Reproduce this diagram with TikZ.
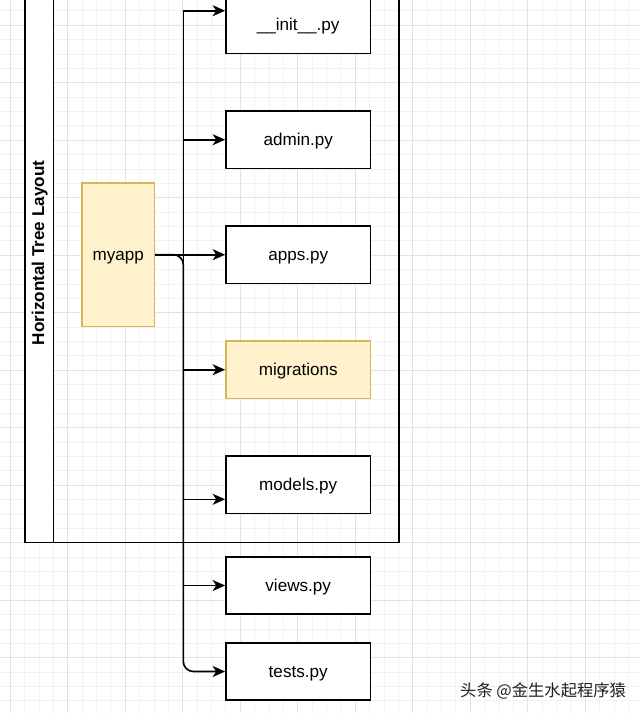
\documentclass[tikz,border=0pt]{standalone}
\usepackage{fontspec}
\setmainfont{Liberation Sans}
\newfontfamily\cjkfont{Noto Sans CJK SC}
\usetikzlibrary{arrows.meta}
\definecolor{ylfill}{HTML}{FFF2CC}
\definecolor{ylstroke}{HTML}{D6B656}
\definecolor{gminor}{HTML}{F2F2F2}
\definecolor{gmajor}{HTML}{E2E2E2}
\tikzset{
  filebox/.style={draw=black, fill=white, line width=1.6pt, minimum width=144.5pt, minimum height=57.5pt, inner sep=0pt, text height=12.3pt, text depth=0.5pt, font=\fontsize{17.1}{20}\selectfont},
  yellowbox/.style={filebox, draw=ylstroke, fill=ylfill},
  conn/.style={draw=black, line width=1.6pt, -{Stealth[length=12.5pt,width=11pt,inset=3.5pt]}},
}
\begin{document}
\begin{tikzpicture}[x=1pt,y=-1pt]
\useasboundingbox (0,0) rectangle (640,713);
\clip (0,0) rectangle (640,713);
\fill[white] (0,0) rectangle (640,713);
% grid
\foreach \i in {0,...,45} {
  \draw[gminor, line width=0.8pt] (-4.175+14.375*\i,0) -- (-4.175+14.375*\i,713);
}
\foreach \i in {0,...,51} {
  \draw[gminor, line width=0.8pt] (0,10.825+14.375*\i) -- (640,10.825+14.375*\i);
}
\foreach \i in {0,...,11} {
  \draw[gmajor, line width=0.9pt] (10.2+57.5*\i,0) -- (10.2+57.5*\i,713);
}
\foreach \i in {0,...,12} {
  \draw[gmajor, line width=0.9pt] (0,25.2+57.5*\i) -- (640,25.2+57.5*\i);
}
% container
\draw[line width=1.6pt, fill=white] (25,-36) rectangle (53.5,542.3);
\draw[line width=1.6pt] (53.5,-36) rectangle (399,542.3);
\node[rotate=90, font=\bfseries\fontsize{17.1}{20}\selectfont] (title) at (39.8,253) {Horizontal Tree Layout};
% nodes
\node[yellowbox, minimum width=72.4pt, minimum height=143.7pt] (myapp) at (118.2,254.7) {myapp};
\node[filebox] (init) at (298.2,24.7) {\_\_init\_\_.py};
\node[filebox] (admin) at (298.2,139.7) {admin.py};
\node[filebox] (apps) at (298.2,254.7) {apps.py};
\node[yellowbox] (migr) at (298.2,369.7) {migrations};
\node[filebox] (models) at (298.2,484.7) {models.py};
\node[filebox] (views) at (298.2,585.5) {views.py};
\node[filebox] (tests) at (298.2,671.5) {tests.py};
\coordinate (trunk) at (183.3,254.7);
% connectors
\draw[conn] (myapp.east) -- (trunk) |- ([yshift=14pt]init.west);
\draw[conn] (myapp.east) -- (trunk) |- (admin.west);
\draw[conn] (myapp.east) -- (apps.west);
\draw[conn] (myapp.east) -- (trunk) |- (migr.west);
\draw[conn] (myapp.east) -- (trunk) |- ([yshift=-14.6pt]models.west);
\draw[conn] (myapp.east) -- (trunk) |- (views.west);
\draw[conn, rounded corners=10pt] (myapp.east) -- (trunk) |- (tests.west);
% watermark
\node[anchor=west, inner sep=0pt, text=black!88, font=\cjkfont\fontsize{16.3}{18}\selectfont] (wm) at (460,691) {头条 @金生水起程序猿};
\end{tikzpicture}
\end{document}
